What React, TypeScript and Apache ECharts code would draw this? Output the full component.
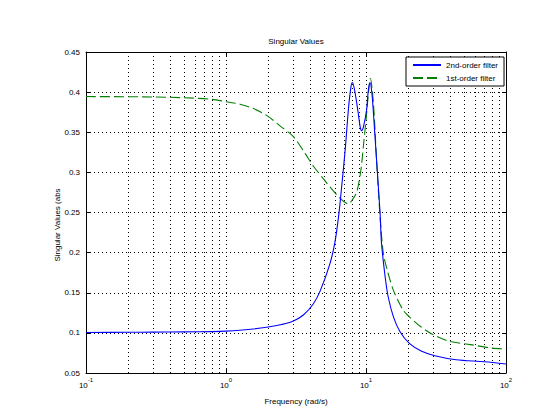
import React, { useEffect, useRef } from "react";
import * as echarts from "echarts";

const freq2nd = [0.1, 0.2, 0.3, 0.5, 0.8, 1.0, 1.5, 2.0, 2.5, 3.0, 3.57, 4.2, 4.7, 5.5, 6.0, 6.4, 6.7, 7.1, 7.5, 7.8, 8.0, 8.3, 8.8, 9.1, 9.3, 9.6, 10.1, 10.4, 10.7, 11.0, 11.3, 11.9, 12.6, 12.9, 13.7, 14.4, 15.7, 17.5, 20.4, 25, 31, 44, 70, 100];
const val2nd = [0.1005, 0.1007, 0.1009, 0.1012, 0.1016, 0.1022, 0.1045, 0.1073, 0.1105, 0.1145, 0.1223, 0.136, 0.152, 0.185, 0.213, 0.248, 0.282, 0.328, 0.38, 0.406, 0.412, 0.402, 0.374, 0.356, 0.352, 0.357, 0.378, 0.403, 0.412, 0.4, 0.374, 0.315, 0.25, 0.212, 0.17, 0.145, 0.12, 0.1015, 0.087, 0.077, 0.0715, 0.0665, 0.064, 0.0612];

const freq1st = [0.1, 0.3, 0.5, 0.8, 1.0, 1.26, 1.57, 1.95, 2.43, 3.03, 3.67, 4.2, 4.96, 5.23, 6.18, 6.9, 7.48, 8.0, 8.6, 9.2, 9.57, 10.0, 10.4, 10.75, 11.3, 11.9, 12.6, 13.3, 14.2, 15.7, 18.4, 20.4, 24.5, 29.3, 39, 55.7, 79.5, 100];
const val1st = [0.3945, 0.394, 0.393, 0.391, 0.388, 0.385, 0.3795, 0.371, 0.358, 0.3445, 0.3237, 0.308, 0.292, 0.287, 0.272, 0.264, 0.2606, 0.266, 0.276, 0.303, 0.332, 0.365, 0.398, 0.417, 0.386, 0.315, 0.245, 0.199, 0.178, 0.153, 0.1285, 0.12, 0.108, 0.099, 0.0896, 0.0854, 0.081, 0.0799];

const minorGrid = [0.2, 0.3, 0.4, 0.5, 0.6, 0.7, 0.8, 0.9, 2, 3, 4, 5, 6, 7, 8, 9, 20, 30, 40, 50, 60, 70, 80, 90];

const seriesNames = ["2nd-order filter", "1st-order filter"];
const titleText = "Singular Values";
const xLabelText = "Frequency (rad/s)";
const yLabelText = "Singular Values (abs";

const FONT = "'Liberation Sans', Arial, Helvetica, sans-serif";

export default function App() {
  const ref = useRef<HTMLDivElement>(null);
  useEffect(() => {
    document.body.style.margin = "0";
    const chart = echarts.init(ref.current!, null, { renderer: "svg" });
    const dotted = { color: "#000", width: 1, type: [1, 3] as any };
    const gridL = 86, gridT = 52, gridW = 420, gridH = 321;
    chart.setOption({
      animation: false,
      backgroundColor: "#fff",
      textStyle: { fontFamily: FONT },
      grid: { left: gridL, top: gridT, width: gridW, height: gridH, containLabel: false },
      legend: {
        orient: "vertical",
        left: 406,
        top: 57,
        backgroundColor: "#fff",
        borderColor: "#000",
        borderWidth: 1,
        borderRadius: 0,
        padding: [4, 6, 4, 6],
        itemWidth: 28,
        itemHeight: 8,
        itemGap: 5,
        itemStyle: { opacity: 0, color: "transparent", borderWidth: 0 },
        textStyle: { fontSize: 8, color: "#000", fontFamily: FONT },
        data: seriesNames,
      },
      xAxis: [
        {
          type: "log",
          logBase: 10,
          min: 0.1,
          max: 100,
          position: "bottom",
          axisLine: { show: true, onZero: false, lineStyle: { color: "#000", width: 1 } },
          axisTick: { show: true, inside: true, length: 4, lineStyle: { color: "#000" } },
          axisLabel: {
            show: true,
            margin: 4,
            color: "#000",
            formatter: (v: number) => {
              const e = Math.round(Math.log10(v));
              return `{b|10}{s|${e}}`;
            },
            rich: {
              b: { fontSize: 8, fontFamily: FONT, color: "#000", verticalAlign: "bottom", lineHeight: 12 },
              s: { fontSize: 6, fontFamily: FONT, color: "#000", verticalAlign: "top", lineHeight: 12, padding: [0, 0, 6, 0] },
            },
          },
          splitLine: { show: true, lineStyle: dotted },
        },
        {
          type: "log",
          logBase: 10,
          min: 0.1,
          max: 100,
          position: "top",
          axisLine: { show: true, onZero: false, lineStyle: { color: "#000", width: 1 } },
          axisTick: { show: true, inside: true, length: 4, lineStyle: { color: "#000" } },
          axisLabel: { show: false },
          splitLine: { show: false },
        },
      ],
      yAxis: [
        {
          type: "value",
          min: 0.05,
          max: 0.45,
          interval: 0.05,
          position: "left",
          axisLine: { show: true, onZero: false, lineStyle: { color: "#000", width: 1 } },
          axisTick: { show: true, inside: true, length: 4, lineStyle: { color: "#000" } },
          axisLabel: {
            color: "#000",
            fontSize: 8,
            fontFamily: FONT,
            margin: 6,
            formatter: (v: number) => String(parseFloat(v.toFixed(2))),
          },
          splitLine: { show: true, lineStyle: dotted },
        },
        {
          type: "value",
          min: 0.05,
          max: 0.45,
          interval: 0.05,
          position: "right",
          axisLine: { show: true, onZero: false, lineStyle: { color: "#000", width: 1 } },
          axisTick: { show: true, inside: true, length: 4, lineStyle: { color: "#000" } },
          axisLabel: { show: false },
          splitLine: { show: false },
        },
      ],
      graphic: [
        {
          type: "text",
          style: { text: titleText, x: 296, y: 41, fontSize: 8, fontFamily: FONT, fill: "#000", align: "center", verticalAlign: "middle" },
        },
        {
          type: "text",
          style: { text: xLabelText, x: 296, y: 401, fontSize: 8, fontFamily: FONT, fill: "#000", align: "center", verticalAlign: "middle" },
        },
        {
          type: "text",
          x: 57,
          y: 225,
          rotation: Math.PI / 2,
          style: { text: yLabelText, x: 0, y: 0, fontSize: 8, fontFamily: FONT, fill: "#000", align: "center", verticalAlign: "middle" },
        },
      ],
      series: [
        {
          name: seriesNames[0],
          type: "line",
          xAxisIndex: 0,
          yAxisIndex: 0,
          data: freq2nd.map((f, i) => [f, val2nd[i]]),
          showSymbol: false,
          symbol: "none",
          smooth: 0.3,
          lineStyle: { color: "#0000ff", width: 1.1, type: "solid" },
          itemStyle: { color: "#0000ff" },
          z: 3,
          markLine: {
            silent: true,
            symbol: ["none", "none"],
            label: { show: false },
            lineStyle: dotted,
            emphasis: { disabled: true },
            data: minorGrid.map((v) => ({ xAxis: v })),
            z: 1,
          },
        },
        {
          name: seriesNames[1],
          type: "line",
          xAxisIndex: 0,
          yAxisIndex: 0,
          data: freq1st.map((f, i) => [f, val1st[i]]),
          showSymbol: false,
          symbol: "none",
          smooth: 0.3,
          lineStyle: { color: "#008000", width: 1.1, type: [10, 4] },
          itemStyle: { color: "#008000" },
          z: 2,
        },
      ],
    });
    return () => chart.dispose();
  }, []);
  return <div ref={ref} style={{ position: "fixed", left: 0, top: 0, width: 559, height: 419 }} />;
}
